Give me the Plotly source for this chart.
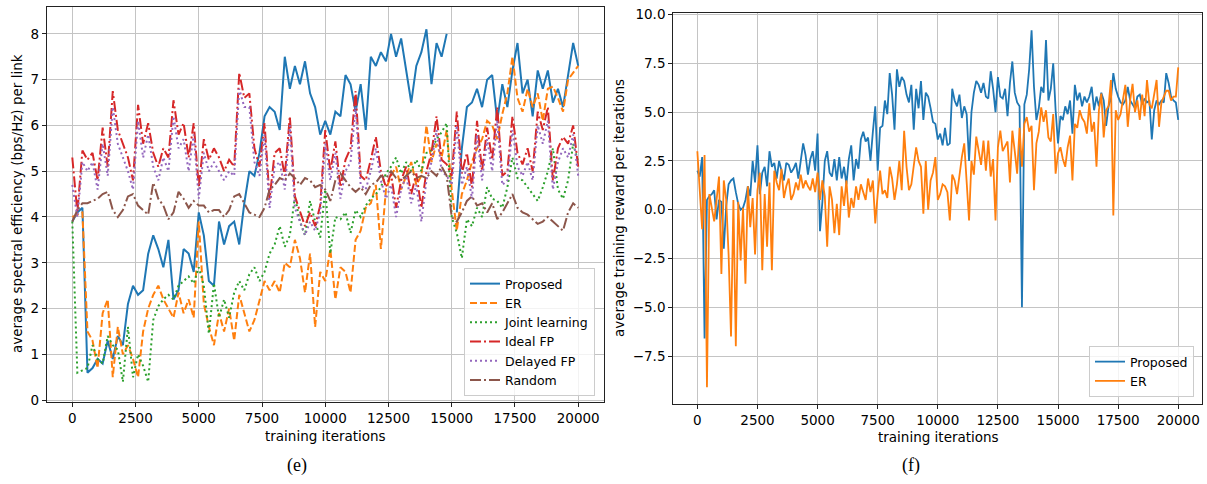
import plotly.graph_objects as go

# ---------------- data: panel (e) ----------------
iters_e = list(range(0, 20001, 200))

proposed_e = [3.9, 4.1, 4.2, 0.6, 0.7, 0.9, 0.8, 1.3, 0.9, 1.4,
              1.2, 2.1, 2.5, 2.3, 2.4, 3.2, 3.6, 3.3, 2.9, 3.5,
              2.2, 2.4, 3.3, 3.2, 2.8, 4.1, 3.6, 2.6, 2.5, 3.9,
              3.4, 3.8, 3.9, 3.4, 4.3, 5.0, 4.9, 5.4, 6.2, 6.4,
              6.3, 5.9, 7.5, 6.8, 7.3, 6.9, 7.4, 6.7, 6.4, 5.8,
              6.1, 5.8, 6.3, 6.2, 7.1, 6.9, 6.3, 6.9, 5.9, 7.5,
              7.3, 7.6, 7.4, 8.0, 7.5, 7.9, 7.2, 6.5, 7.3, 7.6,
              8.1, 6.9, 7.8, 7.5, 8.0, None, 4.1, 5.5, 6.4, 6.5,
              6.8, 6.4, 7.0, 7.1, 6.1, 6.9, 6.4, 7.2, 7.8, 6.7,
              7.0, 6.2, 7.2, 6.8, 7.2, 6.5, 6.8, 6.4, 7.1, 7.8,
              7.3]

er_e = [4.0, 4.05, 4.1, 1.5, 1.3, 0.7, 1.9, 2.2, 0.5, 1.6,
        1.0, 1.2, 0.9, 0.5, 1.5, 2.0, 2.3, 2.5, 2.2, 2.0,
        1.8, 2.35, 1.9, 2.2, 1.8, 3.9, 2.1, 1.6, 1.2, 1.9,
        1.5, 2.0, 1.3, 2.3, 1.9, 1.5, 1.75, 2.2, 2.6, 2.4,
        2.6, 2.35, 3.0, 2.9, 3.5, 3.1, 2.35, 3.2, 1.6, 2.8,
        2.6, 3.3, 2.2, 2.9, 2.8, 2.35, 3.5, 3.7, 4.2, 4.3,
        4.7, 3.3, 4.6, 4.9, 5.1, 4.6, 4.9, 5.2, 4.7, 4.9,
        6.0, 5.2, 5.6, 5.3, 5.9, 4.6, 3.7, 4.5, 4.8, 5.2,
        5.5, 5.7, 6.1, 6.0, 5.7, 6.25, 6.7, 7.5, 6.6, 6.3,
        6.8, 6.4, 6.7, 6.1, 6.8, 6.85, 6.6, 6.3, 7.0, 7.15,
        7.3]

joint_e = [3.9, 0.6, 0.65, 0.7, 1.2, 0.9, 0.8, 1.4, 1.2, 1.1,
           0.4, 1.6, 0.5, 1.0, 0.75, 0.4, 1.75, 2.05, 2.2, 2.3,
           2.2, 2.5, 2.6, 2.7, 2.55, 2.9, 2.5, 1.45, 2.55, 1.8,
           2.2, 1.8, 2.35, 2.6, 2.4, 2.75, 2.9, 2.6, 2.8, 3.2,
           3.4, 3.8, 3.35, 3.6, 4.45, 3.9, 3.6, 4.35, 3.9, 3.55,
           4.6, 3.2, 4.0, 3.95, 4.1, 3.65, 4.15, 4.0, 4.25, 4.4,
           4.5, 4.65, 4.95, 5.1, 5.3, 4.95, 5.2, 5.0, 5.25, 5.0,
           5.4, 5.45, 5.7, 5.85, 6.05, 4.0, 3.65, 3.1, 3.95, 3.8,
           4.2, 4.0, 4.65, 4.4, 4.35, 4.2, 4.65, 5.3, 4.85, 4.8,
           4.65, 4.5, 4.35, 4.65, 5.0, 5.5, 4.6, 4.4, 4.8, 5.6,
           5.2]

ideal_fp_e = [5.3, 4.1, 5.45, 5.25, 5.4, 4.8, 5.95, 5.1, 6.75, 5.9,
              5.6, 5.3, 4.8, 6.45, 5.6, 6.05, 5.4, 5.1, 5.5, 5.3,
              6.55, 5.8, 6.05, 5.3, 6.05, 4.65, 5.7, 5.25, 5.5, 5.3,
              5.0, 5.25, 5.1, 7.15, 6.6, 6.7, 5.5, 5.1, 6.05, 4.4,
              5.4, 5.5, 4.9, 6.2, 4.45, 4.1, 3.8, 4.1, 3.8, 4.25,
              5.9, 5.0, 5.65, 4.65, 5.25, 5.5, 6.75, 4.9, 4.8, 5.25,
              5.75, 5.0, 4.65, 4.95, 4.2, 4.8, 5.1, 4.5, 4.95, 4.2,
              5.0, 5.4, 6.2, 5.25, 5.15, 4.9, 6.3, 4.95, 5.4, 4.65,
              6.1, 5.0, 5.95, 5.25, 6.4, 4.9, 5.0, 6.2, 5.4, 5.15,
              5.5, 5.0, 6.3, 5.9, 6.4, 4.8, 5.5, 5.75, 5.6, 6.0,
              5.1]

delayed_fp_e = [4.7, 4.0, 5.2, 5.0, 5.2, 4.6, 5.6, 4.9, 6.4, 5.6,
                5.3, 5.0, 4.6, 6.1, 5.3, 5.8, 5.1, 4.8, 5.3, 5.0,
                6.2, 5.5, 5.7, 5.0, 5.8, 4.4, 5.4, 5.0, 5.2, 5.0,
                4.8, 5.0, 4.9, 6.8, 6.4, 6.4, 5.2, 4.9, 5.8, 4.2,
                5.1, 5.2, 4.6, 6.0, 4.2, 3.9, 3.6, 3.9, 3.7, 4.1,
                5.6, 4.8, 5.4, 4.4, 5.0, 5.2, 6.4, 4.7, 4.6, 5.0,
                5.5, 4.8, 4.4, 4.7, 4.0, 4.6, 4.9, 4.3, 4.7, 3.9,
                4.8, 5.2, 5.9, 5.0, 4.9, 4.7, 6.0, 4.7, 5.1, 4.4,
                5.8, 4.8, 5.7, 5.0, 6.1, 4.7, 4.8, 5.9, 5.1, 4.9,
                5.2, 4.8, 6.0, 5.6, 6.1, 4.6, 5.2, 5.5, 5.3, 5.8,
                4.9]

random_e = [3.9, 4.15, 4.3, 4.3, 4.35, 4.4, 4.5, 4.55, 4.15, 4.0,
            4.15, 4.45, 4.5, 4.25, 4.15, 4.05, 4.75, 4.4, 4.25, 3.95,
            4.1, 4.55, 4.4, 4.2, 4.35, 4.25, 4.25, 4.1, 4.15, 4.15,
            4.0, 4.15, 4.45, 4.5, 4.3, 4.1, 4.05, 4.0, 4.2, 4.6,
            4.7, 4.85, 4.8, 4.95, 4.85, 4.7, 4.85, 4.8, 4.65, 4.7,
            4.6, 4.35, 4.8, 4.95, 4.8, 4.65, 4.55, 4.65, 4.5, 4.7,
            4.75, 4.9, 4.85, 5.0, 4.85, 4.8, 4.9, 5.0, 4.85, 4.9,
            4.85, 5.0, 4.9, 5.1, 4.9, 4.0, 3.9, 4.1, 4.35, 4.45,
            4.25, 4.3, 4.1, 4.3, 3.95, 4.1, 4.3, 4.5, 4.2, 4.1,
            4.05, 3.95, 3.85, 3.9, 4.0, 3.9, 3.8, 3.7, 4.1, 4.3,
            4.2]

# ---------------- data: panel (f) ----------------
iters_f = list(range(0, 20001, 100))

proposed_f = [2.0, 1.7, 2.7, -6.6, 0.5, 0.7, 0.8, 1.0, -0.5, 0.5,
              0.4, -2.0, 0.2, 1.3, 1.5, 1.6, 0.9, 0.3, 0.0, 0.1,
              0.5, 1.2, 0.7, 2.5, 1.4, 3.3, 0.8, 1.9, 2.2, 1.2,
              3.0, 2.2, 2.4, 1.6, 2.5, 2.0, 1.5, 2.4, 2.3, 1.9,
              2.1, 2.4, 1.6, 2.5, 3.4, 2.8, 1.8, 2.6, 3.0, 2.0,
              3.9, -1.1, 0.4, 2.5, 3.0, 1.9, 1.7, 2.6, 1.5, 2.7,
              1.6, 2.2, 1.3, 2.6, 3.3, 1.5, 2.6, 2.1, 3.6, 4.0,
              3.5, 3.7, 2.5, 4.0, 5.3, 2.0, 4.2, 4.3, 5.6, 4.9,
              7.0, 5.9, 4.1, 7.2, 6.3, 6.8, 6.6, 5.9, 5.5, 6.4,
              4.1, 6.2, 5.2, 6.6, 4.6, 6.0, 5.8, 5.2, 4.5, 4.4,
              3.6, 3.9, 3.3, 4.2, 3.3, 3.4, 6.2, 5.6, 5.3, 5.9,
              4.7, 5.3, 4.9, 2.5, 5.0, 6.0, 6.6, 6.4, 6.0, 6.5,
              5.8, 5.7, 7.1, 6.2, 5.0, 6.8, 5.8, 5.7, 6.2, 4.8,
              6.5, 7.6, 6.0, 5.5, 5.3, -5.0, 5.4, 5.9, 7.2, 9.2,
              6.3, 4.6, 5.2, 6.3, 6.0, 8.7, 5.6, 6.2, 7.5, 5.1,
              3.4, 4.8, 4.6, 5.3, 4.9, 5.6, 3.9, 6.4, 5.6, 6.0,
              5.3, 5.8, 5.5, 5.8, 6.3, 5.1, 5.8, 5.3, 6.0, 5.6,
              4.3, 5.3, 5.7, 7.0, 6.2, 5.8, 5.5, 5.4, 5.6, 6.3,
              5.6, 5.4, 5.2, 5.8, 5.9, 5.4, 5.7, 5.5, 5.6, 3.6,
              5.1, 5.6, 5.4, 5.6, 5.5, 7.0, 6.5, 5.8, 5.6, 5.5,
              4.6]

er_f = [3.0, 1.0, -1.0, 2.8, -9.1, 0.8, 0.1, -0.6, 0.5, 1.7,
        -3.3, 1.5, 0.5, -2.3, -6.5, 0.5, -7.0, 0.4, -2.6, 0.1,
        -3.8, 1.2, -0.9, 0.6, -2.3, 1.0, 1.9, -3.1, 0.8, -1.9,
        1.4, -3.1, 2.0, 1.4, 1.0, 2.1, 0.6, 1.2, 1.6, 0.5,
        0.8, 1.4, 1.0, 1.8, 1.1, 1.5, 1.2, 1.0, 1.6, 0.9,
        1.9, 0.5, 1.5, 0.7, -1.9, 1.2, 0.5, -1.2, 0.3, -1.3,
        1.2, 0.2, 1.5, -0.4, 0.6, 0.1, 1.2, 0.5, 1.3, 0.9,
        0.5, 1.6, 0.9, 1.5, -0.7, 0.8, 2.0, 0.8, 1.0, 0.6,
        2.2, 1.6, 0.5, 1.3, 2.5, 1.0, 4.05, 2.2, 1.0, 1.3,
        2.4, 3.2, 2.5, 2.2, -0.2, 2.5, 0.0, 1.5, 1.9, 2.7,
        0.5, 0.8, 1.3, 1.2, 0.9, -0.55, 1.8, 1.5, 0.8, 1.9,
        2.7, 3.4, 1.5, -0.55, 2.5, 1.8, 3.75, 2.9, 2.3, 3.55,
        2.0, 3.55, 1.7, 2.6, -0.55, 3.2, 4.05, 3.0, 3.3, 3.5,
        1.4, 4.05, 3.0, 1.85, 4.2, 2.2, 4.4, 4.75, 4.0, 4.3,
        1.0, 3.4, 4.0, 5.25, 4.5, 5.1, 3.7, 3.5, 4.9, 1.85,
        2.9, 3.2, 2.6, 2.2, 3.2, 3.8, 1.5, 4.4, 4.2, 5.1,
        4.7, 4.5, 3.9, 5.45, 4.0, 4.5, 2.2, 5.1, 5.95, 3.7,
        5.1, 5.3, 6.65, -0.3, 5.1, 4.6, 4.9, 5.6, 6.4, 4.25,
        5.6, 6.45, 5.0, 5.6, 4.6, 5.9, 4.8, 6.65, 5.4, 5.2,
        6.0, 6.65, 4.25, 5.5, 5.8, 6.1, 6.1, 5.6, 5.8, 5.8,
        7.3]

x_ticks = [0, 2500, 5000, 7500, 10000, 12500, 15000, 17500, 20000]
y_ticks_e = [0, 1, 2, 3, 4, 5, 6, 7, 8]
y_ticks_f = [-7.5, -5.0, -2.5, 0.0, 2.5, 5.0, 7.5, 10.0]
y_ticktext_f = ["−7.5", "−5.0", "−2.5", "0.0", "2.5", "5.0", "7.5", "10.0"]

C_BLUE, C_ORANGE, C_GREEN, C_RED, C_PURPLE, C_BROWN = (
    "#1f77b4", "#ff7f0e", "#2ca02c", "#d62728", "#9467bd", "#8c564b")
DASH = "7px,3px"
DOT = "2px,3px"
DASHDOT = "11px,3px,2px,3px"
LW = 2.0

fig = go.Figure()

series_e = [
    ("Proposed", proposed_e, C_BLUE, "solid"),
    ("ER", er_e, C_ORANGE, DASH),
    ("Joint learning", joint_e, C_GREEN, DOT),
    ("Ideal FP", ideal_fp_e, C_RED, DASHDOT),
    ("Delayed FP", delayed_fp_e, C_PURPLE, DOT),
    ("Random", random_e, C_BROWN, DASHDOT),
]
for name, ys, col, dash in series_e:
    fig.add_trace(go.Scatter(x=iters_e, y=ys, mode="lines", name=name,
                             line=dict(color=col, width=LW, dash=dash),
                             xaxis="x", yaxis="y", legend="legend"))

for name, ys, col in [("Proposed", proposed_f, C_BLUE), ("ER", er_f, C_ORANGE)]:
    fig.add_trace(go.Scatter(x=iters_f, y=ys, mode="lines", name=name,
                             line=dict(color=col, width=1.8),
                             xaxis="x2", yaxis="y2", legend="legend2"))

FONT = "DejaVu Sans"
FS = 13.5
LFS = 12.5
axis_common = dict(showline=True, mirror=True, linecolor="#222222", linewidth=1.2,
                   ticks="outside", ticklen=4, tickwidth=1, tickcolor="#222222",
                   showgrid=True, gridcolor="#c4c4c4", gridwidth=1.2,
                   zeroline=False, automargin=False,
                   tickfont=dict(family=FONT, size=FS, color="black"))

W, H = 1207, 484
fig.update_layout(
    width=W, height=H,
    margin=dict(l=0, r=0, t=0, b=0),
    paper_bgcolor="white", plot_bgcolor="white",
    font=dict(family=FONT, size=FS, color="black"),
    xaxis=dict(domain=[47 / W, 603.5 / W], range=[-1000, 21000],
               tickvals=x_ticks, tickformat="d", anchor="y", **axis_common),
    yaxis=dict(domain=[1 - 401.5 / H, 1 - 7.3 / H], range=[-0.03, 8.58],
               tickvals=y_ticks_e, anchor="x", **axis_common),
    xaxis2=dict(domain=[673.3 / W, 1202.3 / W], range=[-1000, 21000],
                tickvals=x_ticks, tickformat="d", anchor="y2", **axis_common),
    yaxis2=dict(domain=[1 - 404 / H, 1 - 12.7 / H], range=[-9.96, 10.1],
                tickvals=y_ticks_f, ticktext=y_ticktext_f, anchor="x2", **axis_common),
    legend=dict(x=595 / W, xanchor="right", y=1 - 396 / H, yanchor="bottom",
                bgcolor="rgba(255,255,255,0.8)", bordercolor="#cccccc", borderwidth=1,
                font=dict(family=FONT, size=LFS), itemwidth=30, tracegroupgap=0),
    legend2=dict(x=1194 / W, xanchor="right", y=1 - 397 / H, yanchor="bottom",
                 bgcolor="rgba(255,255,255,0.8)", bordercolor="#cccccc", borderwidth=1,
                 font=dict(family=FONT, size=LFS), itemwidth=30, tracegroupgap=0),
    showlegend=True,
)

annos = [
    dict(text="average spectral efficiency (bps/Hz) per link", x=17 / W, y=1 - 204 / H,
         textangle=-90),
    dict(text="training iterations", x=325 / W, y=1 - 436 / H),
    dict(text="average training reward per iterations", x=619 / W, y=1 - 208 / H,
         textangle=-90),
    dict(text="training iterations", x=938 / W, y=1 - 437 / H),
]
for a in annos:
    fig.add_annotation(xref="paper", yref="paper", showarrow=False,
                       xanchor="center", yanchor="middle",
                       font=dict(family=FONT, size=FS, color="black"), **a)

for lab, xc in [("(e)", 297), ("(f)", 911)]:
    fig.add_annotation(text=lab, xref="paper", yref="paper", x=xc / W, y=1 - 465 / H,
                       showarrow=False, xanchor="center", yanchor="middle",
                       font=dict(family="Liberation Serif", size=18, color="black"))

fig.write_html("out.html", config={"displayModeBar": False},
               post_script="document.body.style.margin='0';document.body.style.overflow='hidden';")
